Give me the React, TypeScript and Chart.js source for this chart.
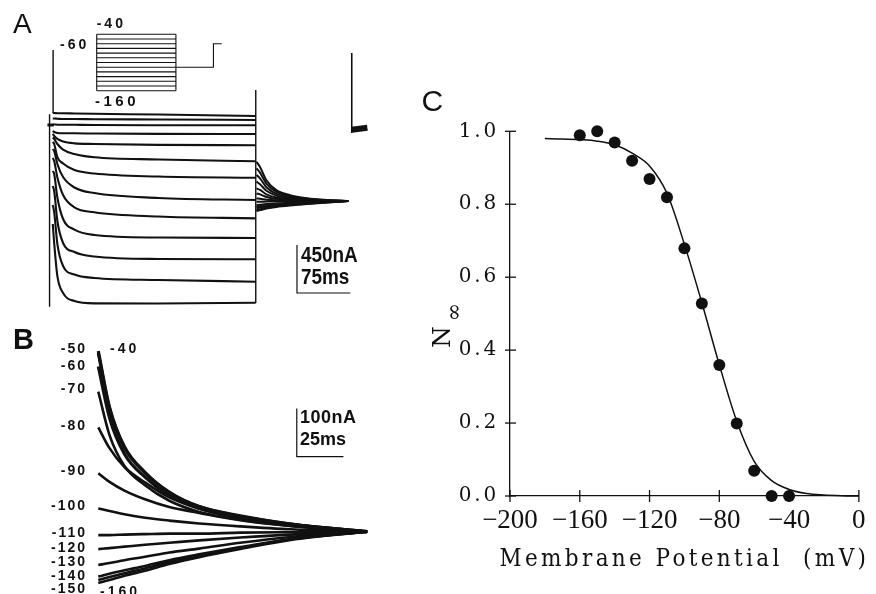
import React, { useEffect, useRef } from "react";
import { Chart, registerables } from "chart.js";

Chart.register(...registerables);

const INK = "#111";

// ---------------- Panel A: currents during 13 voltage steps (ms, nA) ----------------
const A_STEP_MV = [-40, -50, -60, -70, -80, -90, -100, -110, -120, -130, -140, -150, -160];
const A_TRACE_MS = [1.5, 3.5, 8, 16, 32, 60, 150, 287];
const A_TRACES_NA = [
  [113, 113, 110, 110, 108, 105, 98, 84],
  [61, 61, 59, 56, 56, 54, 52, 47],
  [5, 5, 3, 3, 2, 0, -2, -3],
  [-56, -66, -75, -78, -78, -80, -83, -84],
  [-84, -103, -131, -155, -172, -178, -186, -190],
  [-117, -131, -178, -230, -272, -303, -323, -340],
  [-159, -178, -300, -361, -422, -455, -483, -494],
  [-225, -244, -366, -488, -586, -638, -684, -703],
  [-309, -338, -492, -656, -772, -818, -858, -875],
  [-431, -459, -680, -881, -980, -1031, -1055, -1059],
  [-572, -619, -900, -1106, -1191, -1233, -1256, -1259],
  [-750, -816, -1116, -1322, -1402, -1434, -1453, -1469],
  [-928, -1106, -1416, -1575, -1650, -1672, -1673, -1666],
];
const A_TAIL_MS = [288, 293, 302, 316, 335, 359, 387, 417];
const A_TAILS_NA = [
  [-344, -393, -518, -610, -658, -687, -703, -713],
  [-406, -446, -550, -627, -667, -691, -705, -713],
  [-469, -501, -584, -645, -676, -696, -707, -713],
  [-531, -556, -617, -662, -686, -700, -708, -713],
  [-594, -609, -650, -680, -695, -705, -710, -713],
  [-641, -650, -675, -693, -702, -708, -711, -713],
  [-688, -691, -700, -706, -709, -711, -712, -713],
  [-719, -719, -718, -717, -716, -715, -714, -713],
  [-750, -747, -741, -736, -730, -724, -719, -713],
  [-766, -761, -753, -745, -737, -729, -721, -713],
  [-781, -774, -764, -754, -744, -733, -723, -713],
  [-797, -789, -776, -763, -751, -738, -726, -713],
  [-806, -798, -784, -769, -755, -741, -727, -713],
];
const A_HOLD_MS = [-6, 3];
const A_HOLD_NA = 0;
const A_ON_SPIKE_MS = [2, -3];
const A_ON_SPIKE_UP_NA = [703, 113];
const A_ON_SPIKE_DOWN_NA = [100, -1703];
const A_PULSE_MS = 287;
const A_OFF_SPIKE_NA = [328, -1669];
const A_RETURN_MS = 422;
const A_RETURN_SPIKE_NA = [675, -75];
const A_RETURN_BLOB_MS = [422, 444];
const A_RETURN_BLOB_NA = [-45, -25];
const A_SCALE_MS = 75;
const A_SCALE_NA = 450;

// inset voltage protocol (ms, mV)
const A_PROTOCOL_MS = [287, 423, 423, 453];
const A_PROTOCOL_MV = [-110, -110, -60, -60];

// ---------------- Panel B: tail currents (ms, nA) ----------------
const B_STEP_MV = [-40, -50, -60, -70, -80, -90, -100, -110, -120, -130, -140, -150, -160];
const B_TIME_MS = [0, 6, 14, 25, 38, 54, 76, 103, 144];
const B_TRACES_NA = [
  [374, 258, 176, 123, 82, 52, 33, 16, 0],
  [370, 255, 174, 122, 81, 52, 32, 16, 0],
  [342, 236, 161, 113, 75, 48, 30, 15, 0],
  [290, 200, 136, 96, 64, 41, 25, 12, 0],
  [216, 173, 134, 102, 71, 48, 28, 13, 0],
  [121, 103, 85, 67, 51, 39, 24, 12, 0],
  [48, 43, 36, 29, 23, 17, 11, 5, 0],
  [-7, -7, -6, -5, -4, -4, -2, -1, 0],
  [-36, -34, -31, -27, -23, -18, -12, -6, 0],
  [-69, -65, -59, -52, -43, -35, -23, -11, 0],
  [-93, -87, -80, -71, -59, -47, -32, -15, 0],
  [-100, -94, -86, -76, -63, -50, -34, -16, 0],
  [-106, -100, -91, -81, -67, -53, -36, -17, 0],
];
const B_SCALE_MS = 25;
const B_SCALE_NA = 100;

// ---------------- Panel C: steady-state activation ----------------
const C_VM = [-160, -150, -140, -130, -120, -110, -100, -90, -80, -70, -60, -50, -40];
const C_NINF = [0.989, 1.0, 0.969, 0.919, 0.869, 0.819, 0.679, 0.528, 0.359, 0.199, 0.069, 0.0, 0.0];
const C_FIT_VM = [-180, -170, -160, -150, -140, -130, -120, -110, -100, -90, -80, -70, -60, -50, -40, -30, -20, -10, 0];
const C_FIT_N = [0.98, 0.979, 0.977, 0.973, 0.963, 0.94, 0.905, 0.83, 0.69, 0.53, 0.36, 0.205, 0.095, 0.042, 0.018, 0.007, 0.003, 0.001, 0];
const C_X_TITLE = "Membrane Potential  (mV)";

const pts = (xs: number[], ys: number[]) => xs.map((x, i) => ({ x, y: ys[i] }));

const seg = (data: any[], extra: any = {}) => ({
  data,
  showLine: true,
  pointRadius: 0,
  borderColor: INK,
  borderWidth: 1.3,
  clip: false,
  ...extra,
});

const hidden = (min: number, max: number, axis: string) => ({ type: "linear", axis, min, max, display: false });

function Txt(p: {
  left?: number;
  right?: number;
  base: number;
  size: number;
  text: string;
  bold?: boolean;
  ls?: number;
  sx?: number;
  family?: string;
}) {
  return (
    <span
      style={{
        position: "absolute",
        left: p.left,
        right: p.right,
        top: p.base - 0.846 * p.size,
        fontSize: p.size,
        lineHeight: 1,
        fontFamily: p.family ?? '"Liberation Sans", Arial, sans-serif',
        fontWeight: p.bold ? 700 : 400,
        letterSpacing: p.ls ?? 0,
        whiteSpace: "nowrap",
        transform: p.sx ? `scaleX(${p.sx})` : undefined,
        transformOrigin: p.right !== undefined ? "right" : "left",
        color: INK,
      }}
    >
      {p.text}
    </span>
  );
}

export default function App() {
  const refA = useRef<HTMLCanvasElement>(null);
  const refB = useRef<HTMLCanvasElement>(null);
  const refC = useRef<HTMLCanvasElement>(null);

  useEffect(() => {
    const base = {
      animation: false as const,
      responsive: false,
      events: [] as any[],
      layout: { padding: 0 },
      plugins: { legend: { display: false }, tooltip: { enabled: false } },
    };

    // ----- Panel A -----
    const dsA: any[] = [];
    A_TRACES_NA.forEach((tr) =>
      dsA.push(seg(pts(A_TRACE_MS, tr), { borderWidth: 2.1, cubicInterpolationMode: "monotone", xAxisID: "x", yAxisID: "y" }))
    );
    A_TAILS_NA.forEach((tr) =>
      dsA.push(seg(pts(A_TAIL_MS, tr), { borderWidth: 2, cubicInterpolationMode: "monotone", xAxisID: "x", yAxisID: "y" }))
    );
    const ax = { xAxisID: "x", yAxisID: "y" };
    dsA.push(seg(pts([A_HOLD_MS[0], A_HOLD_MS[1]], [A_HOLD_NA, A_HOLD_NA]), { ...ax, borderWidth: 3 }));
    dsA.push(seg(pts([A_ON_SPIKE_MS[0], A_ON_SPIKE_MS[0]], A_ON_SPIKE_UP_NA), { ...ax, borderWidth: 1.4 }));
    dsA.push(seg(pts([A_ON_SPIKE_MS[1], A_ON_SPIKE_MS[1]], A_ON_SPIKE_DOWN_NA), { ...ax, borderWidth: 1.4 }));
    dsA.push(seg(pts([A_PULSE_MS, A_PULSE_MS], A_OFF_SPIKE_NA), { ...ax, borderWidth: 1.4 }));
    dsA.push(seg(pts([A_RETURN_MS, A_RETURN_MS], A_RETURN_SPIKE_NA), { ...ax, borderWidth: 1.6 }));
    dsA.push(seg(pts(A_RETURN_BLOB_MS, A_RETURN_BLOB_NA), { ...ax, borderWidth: 6 }));
    const aBar = { x: 345, y: -1575 };
    dsA.push(
      seg(
        [
          { x: aBar.x, y: aBar.y + A_SCALE_NA },
          { x: aBar.x, y: aBar.y },
          { x: aBar.x + A_SCALE_MS, y: aBar.y },
        ],
        { ...ax, borderWidth: 1.2 }
      )
    );
    // inset protocol
    const ai = { xAxisID: "xi", yAxisID: "yi", borderWidth: 1.1 };
    A_STEP_MV.forEach((v) => dsA.push(seg(pts([0, A_PULSE_MS], [v, v]), ai)));
    const vTop = A_STEP_MV[0];
    const vBot = A_STEP_MV[A_STEP_MV.length - 1];
    dsA.push(seg(pts([0, 0], [vTop, vBot]), ai));
    dsA.push(seg(pts([A_PULSE_MS, A_PULSE_MS], [vTop, vBot]), ai));
    dsA.push(seg(pts(A_PROTOCOL_MS, A_PROTOCOL_MV), ai));

    const chartA = new Chart(refA.current!, {
      type: "scatter",
      data: { datasets: dsA },
      options: {
        ...base,
        scales: {
          x: hidden(-72.7, 518, "x"),
          y: hidden(-1828.1, 1171.9, "y"),
          xi: hidden(-350.4, 1171.4, "x"),
          yi: hidden(-647.9, 33, "y"),
        } as any,
      } as any,
    });

    // ----- Panel B -----
    const dsB: any[] = B_TRACES_NA.map((tr, i) =>
      seg(pts(B_TIME_MS, tr), { borderWidth: i < 3 ? 3.2 : 2.6, cubicInterpolationMode: "monotone" })
    );
    const bBar = { x: 106.3, y: 155.3 };
    dsB.push(
      seg(
        [
          { x: bBar.x, y: bBar.y + B_SCALE_NA },
          { x: bBar.x, y: bBar.y },
          { x: bBar.x + B_SCALE_MS, y: bBar.y },
        ],
        { borderWidth: 1.2 }
      )
    );
    const chartB = new Chart(refB.current!, {
      type: "scatter",
      data: { datasets: dsB },
      options: {
        ...base,
        scales: { x: hidden(-52.65, 172.3, "x"), y: hidden(-129.0, 438.3, "y") } as any,
      } as any,
    });

    // ----- Panel C -----
    const serif = '"DejaVu Serif", "Liberation Serif", serif';
    const times = '"Liberation Serif", "Times New Roman", serif';
    const SP = "2.8px";
    const patch = (scale: any, key: string, sp: string, sx: number) => {
      const flag = "__p_" + key;
      if (!scale || scale[flag]) return;
      const orig = scale[key].bind(scale);
      scale[key] = (...args: any[]) => {
        const c = scale.ctx;
        c.save();
        c.letterSpacing = sp;
        if (sx !== 1) {
          const cx = (scale.left + scale.right) / 2;
          c.translate(cx, 0);
          c.scale(sx, 1);
          c.translate(-cx, 0);
        }
        orig(...args);
        c.restore();
      };
      scale[flag] = true;
    };
    const spacing = {
      id: "spacing",
      beforeUpdate(chart: any) {
        chart.ctx.letterSpacing = SP;
      },
      beforeDraw(chart: any) {
        chart.ctx.letterSpacing = SP;
        patch(chart.scales.x, "drawLabels", "0px", 1);
        patch(chart.scales.x, "drawTitle", "3.7px", 1.06);
      },
    };
    const crossTicks = {
      id: "crossTicks",
      afterDraw(chart: any) {
        const { ctx, chartArea, scales } = chart;
        ctx.save();
        ctx.strokeStyle = INK;
        ctx.lineWidth = 1.3;
        scales.x.ticks.forEach((t: any) => {
          const px = scales.x.getPixelForValue(t.value);
          ctx.beginPath();
          ctx.moveTo(px, chartArea.bottom - 6);
          ctx.lineTo(px, chartArea.bottom + 6);
          ctx.stroke();
        });
        scales.y.ticks.forEach((t: any) => {
          const py = scales.y.getPixelForValue(t.value);
          ctx.beginPath();
          ctx.moveTo(chartArea.left - 5, py);
          ctx.lineTo(chartArea.left + 6, py);
          ctx.stroke();
        });
        ctx.restore();
      },
    };
    const chartC = new Chart(refC.current!, {
      type: "scatter",
      data: {
        datasets: [
          {
            data: pts(C_VM, C_NINF),
            pointRadius: 6,
            pointBackgroundColor: INK,
            pointBorderWidth: 0,
            showLine: false,
            clip: false,
          },
          seg(pts(C_FIT_VM, C_FIT_N), { borderWidth: 1.5, cubicInterpolationMode: "monotone" }),
        ] as any,
      },
      options: {
        ...base,
        layout: { padding: { top: 31.3, right: 11, left: 0, bottom: 0 } },
        scales: {
          x: {
            type: "linear",
            min: -200,
            max: 0,
            afterFit: (s: any) => {
              s.height = 98;
            },
            border: { display: true, color: INK, width: 1.3 },
            grid: { display: false, drawTicks: false },
            ticks: {
              stepSize: 40,
              autoSkip: false,
              maxRotation: 0,
              padding: 9,
              color: INK,
              font: { family: times, size: 27 },
              callback: (v: any) => {
                const n = Math.round(Number(v));
                return n === 0 ? "0" : (n < 0 ? "\u2212" : "") + Math.abs(n);
              },
            },
            title: {
              display: true,
              text: C_X_TITLE,
              color: INK,
              font: { family: serif, size: 24 },
              padding: { top: 0, bottom: 20 },
            },
          },
          y: {
            type: "linear",
            min: 0,
            max: 1,
            afterFit: (s: any) => {
              s.width = 90;
            },
            border: { display: true, color: INK, width: 1.3 },
            grid: { display: false, drawTicks: false },
            ticks: {
              stepSize: 0.2,
              padding: 11,
              color: INK,
              font: { family: serif, size: 20 },
              callback: (v: any) => Number(v).toFixed(1),
            },
          },
        },
      } as any,
      plugins: [spacing, crossTicks] as any,
    });

    return () => {
      chartA.destroy();
      chartB.destroy();
      chartC.destroy();
    };
  }, []);

  const bLeft = ["-50", "-60", "-70", "-80", "-90", "-100", "-110", "-120", "-130", "-140", "-150"];
  const bLeftBase = [353.3, 370, 393, 430, 475, 510, 537, 552, 566, 580, 593];

  return (
    <div
      style={{
        position: "fixed",
        left: 0,
        top: 0,
        width: 876,
        height: 594,
        background: "#fff",
        overflow: "hidden",
      }}
    >
      <canvas ref={refA} width={420} height={320} style={{ position: "absolute", left: 0, top: 0 }} />
      <canvas ref={refB} width={420} height={274} style={{ position: "absolute", left: 0, top: 320 }} />
      <canvas ref={refC} width={456} height={494} style={{ position: "absolute", left: 420, top: 100 }} />

      {/* panel letters */}
      <Txt left={13} base={33.4} size={28} text="A" />
      <Txt left={13} base={350} size={29} text="B" bold />
      <Txt left={421.5} base={111} size={30} text="C" />

      {/* panel A annotations */}
      <Txt left={96.7} base={28.3} size={14} text="-40" bold ls={3} />
      <Txt left={60} base={49.3} size={14} text="-60" bold ls={3} />
      <Txt left={95} base={106} size={15} text="-160" bold ls={3.5} />
      <Txt left={301} base={263} size={22} text="450nA" bold sx={0.86} />
      <Txt left={301} base={285} size={22} text="75ms" bold sx={0.86} />

      {/* panel B annotations */}
      {bLeft.map((t, i) => (
        <Txt key={t} right={876 - 87} base={bLeftBase[i]} size={14} text={t} bold ls={2} />
      ))}
      <Txt left={110} base={353.3} size={14} text="-40" bold ls={3} />
      <Txt left={100} base={596} size={14} text="-160" bold ls={3} />
      <Txt left={300} base={423.3} size={18} text="100nA" bold ls={0.5} />
      <Txt left={300} base={445} size={18} text="25ms" bold />

      {/* panel C y-axis title */}
      <div
        style={{
          position: "absolute",
          left: 428.8,
          top: 348,
          transform: "rotate(-90deg)",
          transformOrigin: "0 0",
          fontFamily: '"DejaVu Serif", serif',
          fontSize: 25,
          lineHeight: 1,
          whiteSpace: "nowrap",
          color: INK,
        }}
      >
        N
        <sub style={{ fontSize: 22, verticalAlign: -11, marginLeft: 5, lineHeight: 1 }}>∞</sub>
      </div>
    </div>
  );
}
